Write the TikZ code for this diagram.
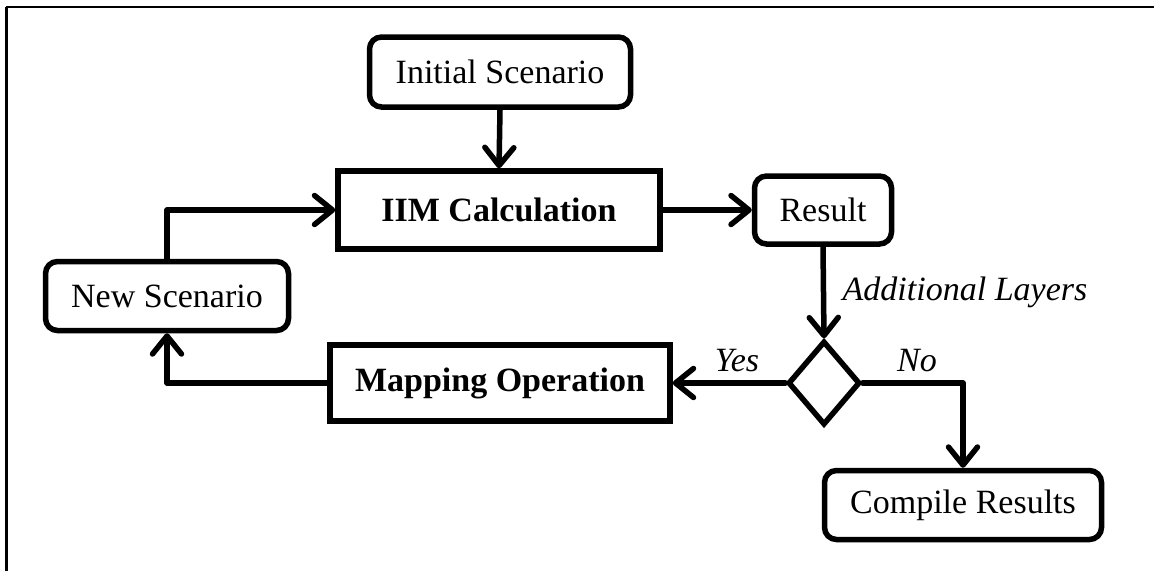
\documentclass[tikz,border=0pt]{standalone}
\usepackage{fontspec}
\setmainfont{Liberation Serif}
\usetikzlibrary{arrows.meta,shapes.geometric}

\tikzset{
  flow/.style={line width=5.5pt, line cap=round, line join=round},
  arr/.style={flow, -{Straight Barb[length=18pt,width=29pt,line cap=round,line join=round]}},
  roundbox/.style={draw, line width=5.5pt, rounded corners=12pt, inner sep=0pt,
                   font=\fontsize{34}{40}\selectfont},
  sharpbox/.style={draw, line width=5.5pt, inner sep=0pt,
                   font=\fontsize{34}{40}\selectfont\bfseries},
  decision/.style={draw, diamond, line width=5.5pt, inner sep=0pt, aspect=0.87},
  tag/.style={inner sep=0pt, font=\fontsize{34}{40}\selectfont\itshape},
}

\begin{document}
\begin{tikzpicture}[x=1pt, y=-1pt]
  \useasboundingbox (0,0) rectangle (1154,571);
  \fill[white] (0,0) rectangle (1154,571);

  % outer frame: top and left edges
  \draw[line width=1.5pt] (6,7) -- (1154,7);
  \draw[line width=2.5pt] (6.5,7) -- (6.5,571);

  % boxes
  \node[roundbox, minimum width=261pt, minimum height=70pt] (init) at (500,72) {Initial Scenario};
  \node[sharpbox, minimum width=322pt, minimum height=78pt] (iim) at (499,210) {IIM Calculation};
  \node[roundbox, minimum width=137pt, minimum height=68pt] (res) at (823,210) {Result};
  \node[decision, minimum width=72pt, minimum height=84pt] (dec) at (824,383) {};
  \node[sharpbox, minimum width=340pt, minimum height=76pt] (map) at (500,383) {Mapping Operation};
  \node[roundbox, minimum width=243pt, minimum height=69pt] (new) at (167,296) {New Scenario};
  \node[roundbox, minimum width=277pt, minimum height=69pt] (comp) at (963,505) {Compile Results};

  % labels
  \node[tag] (lay) at (965,292) {Additional Layers};
  \node[tag] (yes) at (737,361) {Yes};
  \node[tag] (no) at (917,361) {No};

  % connectors
  \draw[arr] (init.south) -- (iim.north);
  \draw[arr] (iim.east) -- (res.west);
  \draw[arr] (res.south) -- (dec.north);
  \draw[arr] (dec.west) -- (map.east);
  \draw[arr] (dec.east) -| (comp.north);
  \draw[arr] (map.west) -| (new.south);
  \draw[arr] (new.north) |- (iim.west);
\end{tikzpicture}
\end{document}
